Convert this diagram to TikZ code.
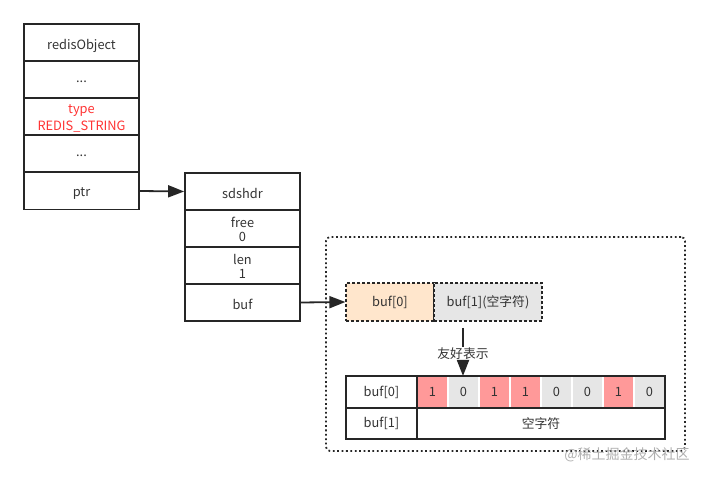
\documentclass[tikz,border=0pt]{standalone}
\usepackage{fontspec}
\setmainfont{Noto Sans CJK SC}
\usetikzlibrary{arrows.meta}
\definecolor{txt}{HTML}{333333}
\definecolor{ln}{HTML}{262626}
\definecolor{redtxt}{HTML}{FF3333}
\definecolor{orangefill}{HTML}{FFE6CC}
\definecolor{grayfill}{HTML}{E6E6E6}
\definecolor{pinkfill}{HTML}{FF9999}
\definecolor{wm}{HTML}{B0B0B0}
\tikzset{
  lbl/.style={font=\fontsize{12.8pt}{16pt}\selectfont, text=txt},
  row/.style={lbl, draw=ln, line width=1.8pt, minimum width=115pt, minimum height=37pt, inner sep=0pt, align=center, text depth=0pt},
  bufcell/.style={lbl, draw=ln, dashed, dash pattern=on 3pt off 2pt, line width=1.2pt, minimum height=38pt, inner sep=0pt},
  bit/.style={lbl, draw=white, line width=1.8pt, minimum width=31pt, minimum height=32pt, inner sep=0pt},
  tcell/.style={lbl, minimum height=31.5pt, inner sep=0pt},
  arr/.style={draw=ln, line width=1.8pt, -{Triangle[length=16pt,width=12pt]}},
  two/.style={align=center},
}
\newcommand{\lowtxt}[1]{\raisebox{-3pt}{#1}}
\newcommand{\lowtwo}[2]{\raisebox{-2pt}{\shortstack{#1\\[1pt]#2}}}
\begin{document}
\begin{tikzpicture}[x=1pt,y=-1pt]
\useasboundingbox (0,0) rectangle (710,478);
% redisObject
\node[row] (ro1) at (81.5,42.5) {\lowtxt{redisObject}};
\node[row] (ro2) at (81.5,79.5) {\lowtxt{...}};
\node[row, text=redtxt] (ro3) at (81.5,116.5) {\lowtwo{type}{REDIS\_STRING}};
\node[row] (ro4) at (81.5,153.5) {\lowtxt{...}};
\node[row] (ro5) at (81.5,191) {\lowtxt{ptr}};
% sdshdr
\node[row] (sd1) at (242.5,191.5) {\lowtxt{sdshdr}};
\node[row] (sd2) at (242.5,228.5) {\lowtwo{free}{0}};
\node[row] (sd3) at (242.5,265.5) {\lowtwo{len}{1}};
\node[row] (sd4) at (242.5,302.5) {\lowtxt{buf}};
\draw[arr] (ro5.east) -- (sd1.west);
% dotted container
\node[draw=ln, dash pattern=on 1.8pt off 2.6pt, line width=1.8pt, rounded corners=4pt, minimum width=359pt, minimum height=214pt, inner sep=0pt] (cont) at (505.5,344) {};
% buf cells
\node[bufcell, fill=orangefill, minimum width=88pt] (b0) at (390,302) {\lowtxt{buf[0]}};
\node[bufcell, fill=grayfill, minimum width=108pt] (b1) at (488,302) {\lowtxt{buf[1](空字符)}};
\draw[arr] (sd4.east) -- (b0.west);
% table
\coordinate (tl) at (346,376);
\coordinate (br) at (665,439);
\node[tcell, minimum width=71pt] (t00) at (381.5,392) {\lowtxt{buf[0]}};
\node[tcell, minimum width=71pt] (t10) at (381.5,423.5) {\lowtxt{buf[1]}};
\foreach \v [count=\i] in {1,0,1,1,0,0,1,0} {
  \pgfmathsetmacro{\cx}{417+31*(\i-1)+15.5}
  \ifnum\v=1
    \node[bit, fill=pinkfill] (bit\i) at (\cx,392) {\lowtxt{\v}};
  \else
    \node[bit, fill=grayfill] (bit\i) at (\cx,392) {\lowtxt{\v}};
  \fi
}
\node[tcell, minimum width=248pt] (t11) at (541,423.5) {\lowtxt{空字符}};
\draw[draw=ln, line width=1.8pt] (tl) rectangle (br);
\draw[draw=ln, line width=1.8pt] (346,408) -- (665,408);
\draw[draw=ln, line width=1.8pt] (417,376) -- (417,439);
% friendly representation arrow
\coordinate (vs) at (463,328);
\coordinate (ve) at (463,376);
\node[lbl, fill=white, inner sep=1pt] (lab) at (463,354) {友好表示};
\draw[draw=ln, line width=1.8pt] (vs) -- (lab.north);
\draw[arr] (lab.south) -- (ve);
% watermark
\node[text=wm, font=\fontsize{14pt}{16pt}\selectfont, inner sep=0pt] (wmark) at (627,455) {@稀土掘金技术社区};
\end{tikzpicture}
\end{document}
